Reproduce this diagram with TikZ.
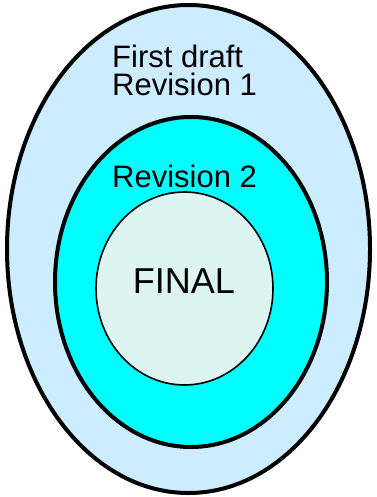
\documentclass[tikz,border=0pt]{standalone}
\usepackage{fontspec}
\setmainfont{Liberation Sans}
\definecolor{outerblue}{RGB}{204,236,255}
\definecolor{midcyan}{RGB}{0,255,255}
\definecolor{innerpale}{RGB}{221,245,241}
\begin{document}
\begin{tikzpicture}[x=1pt,y=-1pt,
  ring/.style={draw=black,line width=4pt},
  lbl/.style={inner sep=0pt,anchor=base west,font=\fontsize{31}{31}\selectfont},
  finallbl/.style={inner sep=0pt,anchor=base,font=\fontsize{36}{36}\selectfont}]
\useasboundingbox (0,0) rectangle (376,497);
\draw[ring,fill=outerblue] (188.5,249) ellipse [x radius=181.5, y radius=244];
\draw[ring,fill=midcyan] (191,282) ellipse [x radius=136, y radius=165];
\draw[draw=black,line width=1.6pt,fill=innerpale] (184.5,288.5) ellipse [x radius=88.5, y radius=96.5];
\node[lbl] (fd) at (112,68) {First draft};
\node[lbl] (r1) at (112,96) {Revision 1};
\node[lbl] (r2) at (112,187) {Revision 2};
\node[finallbl] (fin) at (184,293) {FINAL};
\end{tikzpicture}
\end{document}
